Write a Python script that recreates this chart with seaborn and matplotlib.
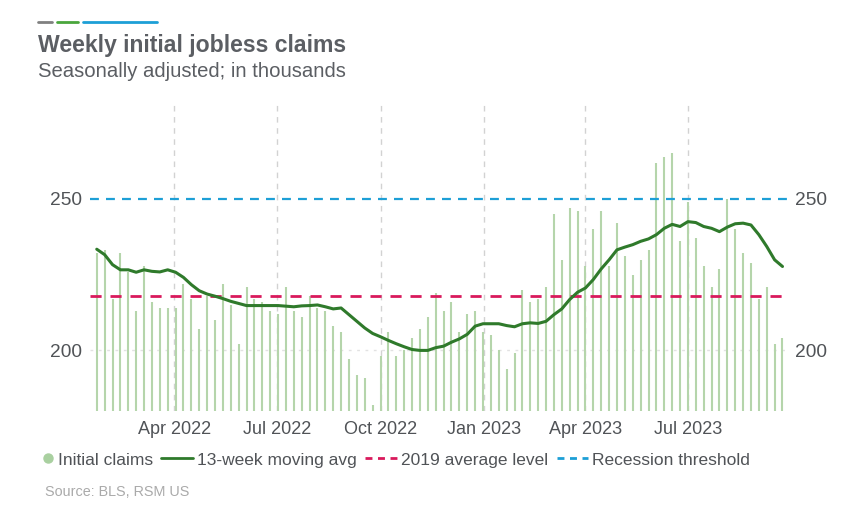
import numpy as np
import pandas as pd
import seaborn as sns
import matplotlib.pyplot as plt
import matplotlib.dates as mdates
from matplotlib.lines import Line2D
from matplotlib.legend_handler import HandlerLine2D

# weekly initial claims (thousands), week ending Saturday
start_week = "2022-01-22"
claims = [232, 233, 217, 232, 226, 213, 228, 216, 214, 214, 214, 222, 217, 207, 218, 210,
          222, 215, 202, 221, 217, 216, 213, 212, 221, 213, 211, 218, 214, 213, 208, 206,
          197, 192, 191, 182, 198, 206, 198, 200, 204, 207, 211, 219, 213, 216, 206, 212,
          213, 206, 205, 200, 194, 199, 220, 216, 217, 221, 245, 230, 247, 246, 228, 240,
          246, 228, 242, 231, 225, 230, 233, 262, 264, 265, 236, 249, 237, 228, 221, 227,
          250, 240, 232, 229, 217, 221, 202, 204]
moving_avg = [233.4, 231.6, 228.3, 226.6, 226.6, 225.8, 226.6, 226.1, 225.9, 226.6, 225.8,
              224.1, 221.7, 219.7, 218.6, 217.9, 217.1, 216.2, 215.5, 214.8, 214.8, 214.8,
              214.8, 214.8, 214.6, 214.4, 214.7, 214.8, 215.0, 214.4, 213.7, 214.0, 211.8,
              209.6, 207.4, 205.6, 204.5, 203.3, 202.2, 201.2, 200.3, 200.0, 200.0, 200.9,
              201.4, 202.7, 203.8, 205.3, 208.0, 208.8, 208.8, 208.8, 208.2, 207.8, 208.8,
              209.1, 208.9, 209.6, 211.8, 213.7, 216.8, 219.2, 220.6, 223.4, 226.9, 229.9,
              233.2, 234.1, 234.9, 236.0, 236.8, 238.2, 240.3, 241.6, 240.9, 242.5, 242.2,
              240.9, 240.3, 239.2, 240.7, 241.8, 242.0, 241.4, 238.2, 234.3, 229.9, 227.7]
avg_2019 = 218
recession_level = 250
y_ticks = [200, 250]

df = pd.DataFrame({
    "week": pd.date_range(start_week, periods=len(claims), freq="7D"),
    "claims": claims,
    "ma": moving_avg,
})

bar_col = "#b5d5ab"
ma_col = "#2f7a2b"
red_col = "#d9195c"
blue_col = "#1d9fd6"
text_col = "#505357"


class MarkerRight(HandlerLine2D):
    # put the legend dot right next to its label
    def create_artists(self, legend, orig_handle, xdescent, ydescent, width, height,
                       fontsize, trans):
        arts = super().create_artists(legend, orig_handle, xdescent, ydescent, width,
                                      height, fontsize, trans)
        for a in arts:
            x = np.asarray(a.get_xdata(), dtype=float)
            a.set_xdata(np.full_like(x, width - 4))
        return arts


sns.set_theme(style="white")
plt.rcParams["font.family"] = ["Liberation Sans", "DejaVu Sans"]

fig = plt.figure(figsize=(8.46, 5.08), dpi=100)
ax = fig.add_axes([90 / 846, 97 / 508, 697 / 846, 306 / 508])

ax.vlines(df["week"], 180, df["claims"], color=bar_col, linewidth=1.5, zorder=1)
sns.lineplot(data=df, x="week", y="ma", color=ma_col, linewidth=2.2, ax=ax, zorder=4)
ax.axhline(avg_2019, color=red_col, linewidth=2, dashes=(4, 3.2), zorder=3)
ax.axhline(recession_level, color=blue_col, linewidth=1.6, dashes=(4, 3.2), zorder=3)
ax.axhline(200, color="#e2e2e2", linewidth=1, linestyle=(0, (2, 4)), zorder=0)

ax.set_xlim(pd.Timestamp("2022-01-16"), pd.Timestamp("2023-09-27"))
ax.set_ylim(180, 281)
ax.xaxis.set_major_locator(mdates.MonthLocator(bymonth=[1, 4, 7, 10]))
ax.xaxis.set_major_formatter(mdates.DateFormatter("%b %Y"))
for t in ax.get_xticks():
    ax.axvline(t, color="#d2d2d2", linewidth=1, dashes=(4, 4), zorder=0)
ax.set_yticks(y_ticks)
ax.tick_params(axis="both", length=0, colors=text_col)
ax.tick_params(axis="x", labelsize=13, pad=7)
ax.tick_params(axis="y", labelsize=13.8, labelright=True, pad=6)
ax.set_xlabel("")
ax.set_ylabel("")
sns.despine(ax=ax, left=True, bottom=True)

# header
for x0, x1, c in [(38, 52, "#808080"), (57, 78, "#4aa63c"), (83, 157, blue_col)]:
    fig.add_artist(Line2D([x0 / 846, x1 / 846], [1 - 22 / 508] * 2, color=c,
                          linewidth=2, transform=fig.transFigure))
fig.text(38 / 846, 1 - 52 / 508, "Weekly initial jobless claims", fontsize=16.6,
         fontweight="bold", color="#5b5e63", va="baseline")
fig.text(38 / 846, 1 - 77 / 508, "Seasonally adjusted; in thousands", fontsize=14.6,
         color="#5b5e63", va="baseline")

dot = Line2D([], [], linestyle="none", marker="o", markersize=6.5, color="#a9d0a0")
handles = [
    dot,
    Line2D([], [], color=ma_col, linewidth=2),
    Line2D([], [], color=red_col, linewidth=2, dashes=(2.5, 2)),
    Line2D([], [], color=blue_col, linewidth=2, dashes=(2.5, 2)),
]
labels = ["Initial claims", "13-week moving avg", "2019 average level", "Recession threshold"]
fig.legend(handles, labels, loc="center left", bbox_to_anchor=(22 / 846, 1 - 460 / 508),
           ncol=4, frameon=False, fontsize=12.5, handlelength=1.8, handletextpad=0.25,
           columnspacing=0.5, borderaxespad=0, borderpad=0, labelcolor=text_col,
           handler_map={dot: MarkerRight()})

fig.text(45 / 846, 1 - 492 / 508, "Source: BLS, RSM US", fontsize=10.4, color="#aaaaaa",
         va="center")

fig.savefig("out.png", dpi=100)
